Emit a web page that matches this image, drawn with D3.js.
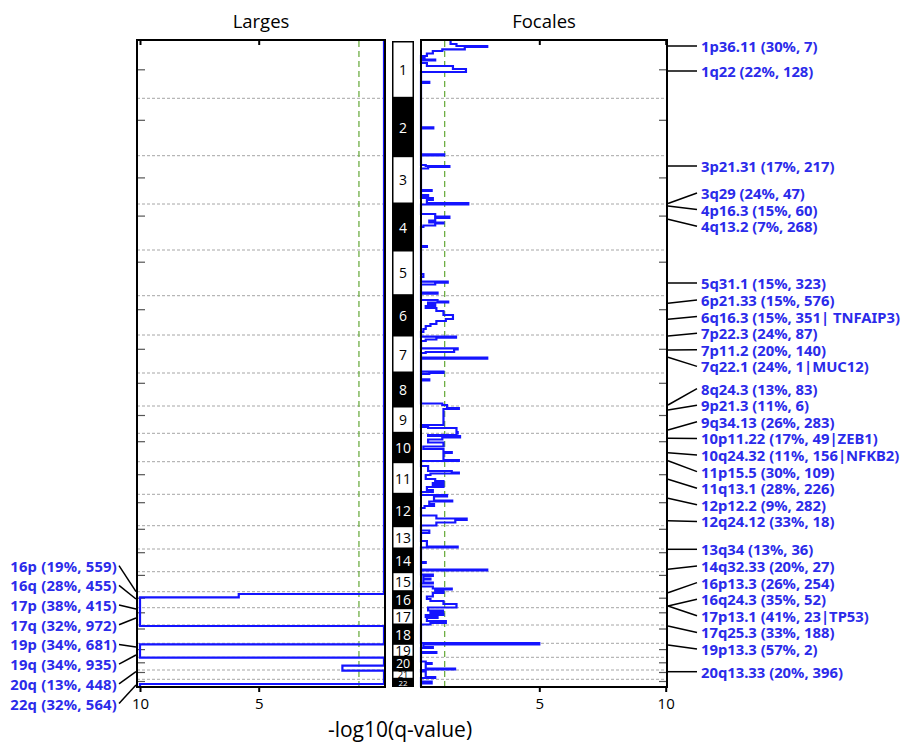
<!DOCTYPE html>
<html>
<head>
<meta charset="utf-8">
<script src="https://cdn.jsdelivr.net/npm/d3@7"></script>
<style>
  body { margin: 0; background: #fff; }
  svg { display: block; }
</style>
</head>
<body>
<svg id="gisticSVG" width="904" height="744"></svg>
<script>
// ---- data (genome positions in plot units) ----
var chromNames = ["1","2","3","4","5","6","7","8","9","10","11","12","13","14","15","16","17","18","19","20","21","22"];
var chromSize  = [57.3,57.4,48.3,46,45.7,39.3,38,33,27.3,28.4,32.6,31.4,23.3,22.7,20,16,17.3,18.3,14,12.7,9.3,7.7];
var centromere = [28.8,22.0,22.2,12.1,12.2,14.0,14.3,10.3,9.5,8.4,13.0,8.4,3.6,3.7,3.7,6.5,5.1,4.0,6.3,5.5,2.5,2.2];

var xTicks = [10, 5];
var qThreshold = 1;   // -log10(q) cut-off

// broad (arm level) profile: [start, -log10(q)]
var broadProfile = [
  [0,0],[553,5.84],[556.3,10],[585,0],[603.3,10],[616.7,0],[624.7,1.66],[629.7,0],[643,10],[646,10]
];
var broadLabels  = ["16p (19%, 559)","16q (28%, 455)","17p (38%, 415)","17q (32%, 972)",
                    "19p (34%, 681)","19q (34%, 935)","20q (13%, 448)","22q (32%, 564)"];
var broadTargets = [550.7,558,568,577,606,614,630.7,644];

// focal profile: [start, -log10(q)]
var focalProfile = [
  [0,1.25],[3,1.5],[5,2.8],[6,1.85],[8.3,0.9],[10,0.5],[12.5,0.25],[15,0],[16,0.15],[17,0],[18.5,0.6],[19.5,0],
  [22,0.25],[25,1.35],[28,1.9],[31,0],[40.8,0.35],[41.8,0],
  [86.3,0.52],[87.3,0],[113.3,0.98],[114.3,0],
  [124,0.2],[125,1.2],[126,0.3],[127.5,0],[149,0.45],[150,0],[154,0.3],[155,0],[157,0.5],[159,0.25],[162,2.0],[163.5,0],
  [173,0.6],[175.5,1.2],[177,0.6],[179.5,0.35],[181.5,0.95],[182.5,0.6],[184.5,0.1],[186,0],[205,0.25],[206,0],
  [233,0.1],[236,0],[240.7,1.13],[241.7,0.6],[243.5,0],[251.7,0.7],[252.7,0],
  [259,0.7],[260.5,1.15],[261.5,0.3],[263,0.6],[265,0.2],[267,0.65],[270,0.95],[274,1.35],[278,1.05],[280,0.65],[283,0.4],[285,0.2],[288,0.1],[291,0],
  [295.7,1.48],[296.7,0.65],[298.5,0.2],[300,0],[307.3,1.55],[308.3,1.4],[311,0.2],[312,0],[316.7,2.8],[317.7,0],
  [330.7,0.95],[332,0.35],[333,0],[338.3,0.35],[339.3,0],[362.5,0.9],[364,1.1],[367,1.6],[368,0.95],[384,0],[386,0.3],[387,1.5],[391,1.55],
  [392.3,1.5],[394,0.3],[395,1.65],[396.5,0.9],[398.5,0.3],[401.5,0.95],[405.5,0.1],[408,0.95],[411,1.3],[412,0.95],[419,1.6],[420,0],
  [425,0.3],[430,1.3],[431.5,1.6],[432.5,0.4],[434,0.2],[438,0.6],[440,0.95],[442,0.5],[444,0.95],[446,0.25],[449,0.5],[451,0],
  [454,1.1],[455.5,0.55],[459.5,1.32],[460.5,0.35],[463,0.55],[465,0.15],[467,0],[474.5,0.65],[477.5,1.93],[479,1.45],[481.5,0.65],[484.5,0],
  [489.5,0.35],[492,0],[500,0.25],[505.5,1.55],[506.5,0],[521,0.2],[522,0],[528.5,2.8],[529.5,0],
  [533.5,0.5],[535,0.1],[537.5,0.4],[538.5,0.1],[541.5,0.5],[542.5,0],[545.5,0.5],[547.5,1.3],[548.5,0.6],
  [550.5,0.95],[552,0.5],[555.5,0.25],[558,0.4],[560,0.95],[563,1.5],[566.5,0.3],
  [569.5,0.93],[571,0.4],[573,0.95],[574,0.2],[576,0.7],[577,0.25],[580,1.05],[582,0.4],[583.5,0],
  [602,5.0],[603.3,0.1],[606,0.5],[607,0],[611,0.65],[612,0],
  [620.5,0.2],[622,0.45],[623,0.2],[627.5,1.44],[628.5,0.2],[629,0],
  [630.5,0.2],[636,0.6],[637,0],[640.5,0.45],[642.5,0],[646,0]
];
var focalLabels = ["1p36.11 (30%, 7)","1q22 (22%, 128)","3p21.31 (17%, 217)","3q29 (24%, 47)","4p16.3 (15%, 60)",
  "4q13.2 (7%, 268)","5q31.1 (15%, 323)","6p21.33 (15%, 576)","6q16.3 (15%, 351| TNFAIP3)","7p22.3 (24%, 87)",
  "7p11.2 (20%, 140)","7q22.1 (24%, 1|MUC12)","8q24.3 (13%, 83)","9p21.3 (11%, 6)","9q34.13 (26%, 283)",
  "10p11.22 (17%, 49|ZEB1)","10q24.32 (11%, 156|NFKB2)","11p15.5 (30%, 109)","11q13.1 (28%, 226)","12p12.2 (9%, 282)",
  "12q24.12 (33%, 18)","13q34 (13%, 36)","14q32.33 (20%, 27)","16p13.3 (26%, 254)","16q24.3 (35%, 52)",
  "17p13.1 (41%, 23|TP53)","17q25.3 (33%, 188)","19p13.3 (57%, 2)","20q13.33 (20%, 396)"];
var focalTargets = [5,30,125,162.5,165,178.3,242,262.3,278.3,295,309,316.3,364,369,389,397.3,411.7,419.7,438.3,457.3,
  479.7,508.3,528.3,551.7,565,565,585,604,630.7];

// ---- layout ----
var svg = d3.select("#gisticSVG");
var top0 = 41, bot0 = 687;
var leftBox  = {x0: 137, x1: 385};
var rightBox = {x0: 421, x1: 667};
var ideo = {x0: 392, x1: 414};
var blue = "#1414ff", labelBlue = "#2b2bea";

var chromStart = [];
chromSize.reduce(function(acc, s, i){ chromStart[i] = acc; return acc + s; }, 0);
var total = d3.sum(chromSize);

var y = d3.scaleLinear().domain([0, total]).range([top0, bot0]);
var xBroad = d3.scaleLinear().domain([0, 5, 10]).range([384, 258.7, 140]);
var xFocal = d3.scaleLinear().domain([0, 5, 10]).range([421, 539.3, 665.7]);

function profilePoints(prof){
  var pts = [];
  prof.forEach(function(d, i){
    var end = i < prof.length - 1 ? prof[i+1][0] : total;
    pts.push([d[1], d[0]]);
    pts.push([d[1], end]);
  });
  return pts;
}

// chromosome boundaries
var bounds = chromStart.slice(1);
[[leftBox.x0, leftBox.x1], [rightBox.x0, rightBox.x1]].forEach(function(b){
  svg.append("g").selectAll("line").data(bounds).enter().append("line")
    .attr("x1", b[0]).attr("x2", b[1])
    .attr("y1", d => y(d)).attr("y2", d => y(d))
    .attr("stroke", "#a6a6a6").attr("stroke-width", 1).attr("stroke-dasharray", "3,2");
});

// centromere ticks
svg.append("g").selectAll("line").data(centromere).enter().append("line")
  .attr("x1", leftBox.x0).attr("x2", leftBox.x0 + 8)
  .attr("y1", (d,i) => y(chromStart[i] + d)).attr("y2", (d,i) => y(chromStart[i] + d))
  .attr("stroke", "#555").attr("stroke-width", 1.2);
svg.append("g").selectAll("line").data(centromere).enter().append("line")
  .attr("x1", rightBox.x1 - 8).attr("x2", rightBox.x1)
  .attr("y1", (d,i) => y(chromStart[i] + d)).attr("y2", (d,i) => y(chromStart[i] + d))
  .attr("stroke", "#555").attr("stroke-width", 1.2);

// threshold lines
svg.append("line").attr("x1", xBroad(qThreshold)).attr("x2", xBroad(qThreshold))
  .attr("y1", top0).attr("y2", bot0)
  .attr("stroke", "#6fae45").attr("stroke-width", 1.3).attr("stroke-dasharray", "6,4");
svg.append("line").attr("x1", xFocal(qThreshold)).attr("x2", xFocal(qThreshold))
  .attr("y1", top0).attr("y2", bot0)
  .attr("stroke", "#6fae45").attr("stroke-width", 1.3).attr("stroke-dasharray", "6,4");

// profiles
svg.append("path").datum(profilePoints(broadProfile))
  .attr("d", d3.line().x(d => xBroad(d[0])).y(d => y(d[1])))
  .attr("fill", "none").attr("stroke", blue).attr("stroke-width", 2.2);
svg.append("path").datum(profilePoints(focalProfile))
  .attr("d", d3.line().x(d => xFocal(d[0])).y(d => y(d[1])))
  .attr("fill", "none").attr("stroke", blue).attr("stroke-width", 2.2);

// panel boxes
[leftBox, rightBox].forEach(function(b){
  svg.append("rect").attr("x", b.x0).attr("y", top0 - 1)
    .attr("width", b.x1 - b.x0).attr("height", bot0 - top0 + 1)
    .attr("fill", "none").attr("stroke", "#000").attr("stroke-width", 2);
});

// ideogram
svg.append("clipPath").attr("id", "ideoClip").append("rect")
  .attr("x", ideo.x0).attr("y", top0).attr("width", ideo.x1 - ideo.x0).attr("height", bot0 - top0);
svg.append("rect").attr("x", ideo.x0).attr("y", top0)
  .attr("width", ideo.x1 - ideo.x0).attr("height", bot0 - top0).attr("fill", "#000");
var ig = svg.append("g").attr("clip-path", "url(#ideoClip)");
ig.selectAll("rect.chr").data(chromNames).enter().filter((d,i) => i % 2 === 0).append("rect")
  .attr("class", "chr")
  .attr("x", ideo.x0 + 1.5).attr("width", ideo.x1 - ideo.x0 - 3)
  .attr("y", d => y(chromStart[chromNames.indexOf(d)]) + 1.5)
  .attr("height", d => y(chromSize[chromNames.indexOf(d)]) - top0 - 3)
  .attr("fill", "#fff");
ig.selectAll("text").data(chromNames).enter().append("text")
  .attr("x", (ideo.x0 + ideo.x1) / 2)
  .attr("y", (d,i) => y(chromStart[i] + chromSize[i] / 2))
  .attr("text-anchor", "middle").attr("dominant-baseline", "central")
  .attr("font-family", "'Open Sans', sans-serif")
  .attr("font-size", (d,i) => Math.min(14, chromSize[i] * 0.9 + 1) + "px")
  .attr("fill", (d,i) => i % 2 === 0 ? "#000" : "#fff")
  .text(d => d);

// axes
var axB = svg.append("g").attr("transform", "translate(0," + bot0 + ")")
  .call(d3.axisBottom(xBroad).tickValues(xTicks).tickSize(5).tickPadding(6).tickFormat(d3.format("d")));
var axF = svg.append("g").attr("transform", "translate(0," + bot0 + ")")
  .call(d3.axisBottom(xFocal).tickValues(xTicks).tickSize(5).tickPadding(6).tickFormat(d3.format("d")));
var axBt = svg.append("g").attr("transform", "translate(0," + top0 + ")")
  .call(d3.axisTop(xBroad).tickValues(xTicks).tickSize(-4).tickFormat(""));
var axFt = svg.append("g").attr("transform", "translate(0," + top0 + ")")
  .call(d3.axisTop(xFocal).tickValues(xTicks).tickSize(-4).tickFormat(""));
[axB, axF, axBt, axFt].forEach(function(a){
  a.select(".domain").remove();
  a.selectAll(".tick line").attr("stroke", "#000").attr("stroke-width", 2);
  a.selectAll(".tick text").attr("font-family", "'Open Sans', sans-serif").attr("font-size", "15px").attr("fill", "#000");
});

// titles
svg.append("text").attr("x", (leftBox.x0 + leftBox.x1) / 2).attr("y", 28)
  .attr("text-anchor", "middle").attr("font-family", "'Open Sans', sans-serif").attr("font-size", "18.5px").text("Larges");
svg.append("text").attr("x", (rightBox.x0 + rightBox.x1) / 2).attr("y", 28)
  .attr("text-anchor", "middle").attr("font-family", "'Open Sans', sans-serif").attr("font-size", "18.5px").text("Focales");
svg.append("text").attr("x", 400).attr("y", 737)
  .attr("text-anchor", "middle").attr("font-family", "'Open Sans', sans-serif").attr("font-size", "21px").text("-log10(q-value)");

// label spreading: merge overlapping groups, centre each group on its targets
function spread(targets, gap){
  var groups = targets.map(function(t, i){ return {idx: [i], sum: t}; });
  var merged = true;
  while (merged) {
    merged = false;
    for (var g = 0; g < groups.length - 1; g++) {
      var a = groups[g], b = groups[g+1];
      var aBot = a.sum / a.idx.length + (a.idx.length - 1) * gap / 2;
      var bTop = b.sum / b.idx.length - (b.idx.length - 1) * gap / 2;
      if (bTop - aBot < gap) {
        groups.splice(g, 2, {idx: a.idx.concat(b.idx), sum: a.sum + b.sum});
        merged = true;
        break;
      }
    }
  }
  var out = [];
  groups.forEach(function(gr){
    var n = gr.idx.length, c = gr.sum / n;
    gr.idx.forEach(function(k, j){ out[k] = c + (j - (n - 1) / 2) * gap; });
  });
  return out;
}

var fontLab = "'Noto Sans', sans-serif";

// broad labels (left)
var bY = spread(broadTargets.map(y), 19.7);
svg.append("g").selectAll("line").data(broadTargets).enter().append("line")
  .attr("x1", 119).attr("x2", leftBox.x0 - 1)
  .attr("y1", (d,i) => bY[i]).attr("y2", d => y(d))
  .attr("stroke", "#000").attr("stroke-width", 1.5);
svg.append("g").selectAll("text").data(broadLabels).enter().append("text")
  .attr("x", 117).attr("y", (d,i) => bY[i])
  .attr("text-anchor", "end").attr("dominant-baseline", "central")
  .attr("font-family", fontLab).attr("font-weight", "bold").attr("font-size", "14.8px")
  .attr("letter-spacing", "0.2px")
  .attr("fill", labelBlue).text(d => d);

// focal labels (right)
var fY = spread(focalTargets.map(y), 16.6);
svg.append("g").selectAll("line").data(focalTargets).enter().append("line")
  .attr("x1", rightBox.x1 + 1).attr("x2", 697)
  .attr("y1", d => y(d)).attr("y2", (d,i) => fY[i])
  .attr("stroke", "#000").attr("stroke-width", 1.5);
svg.append("g").selectAll("text").data(focalLabels).enter().append("text")
  .attr("x", 701).attr("y", (d,i) => fY[i])
  .attr("dominant-baseline", "central")
  .attr("font-family", fontLab).attr("font-weight", "bold").attr("font-size", "14.8px")
  .attr("fill", labelBlue).text(d => d);
</script>
</body>
</html>
